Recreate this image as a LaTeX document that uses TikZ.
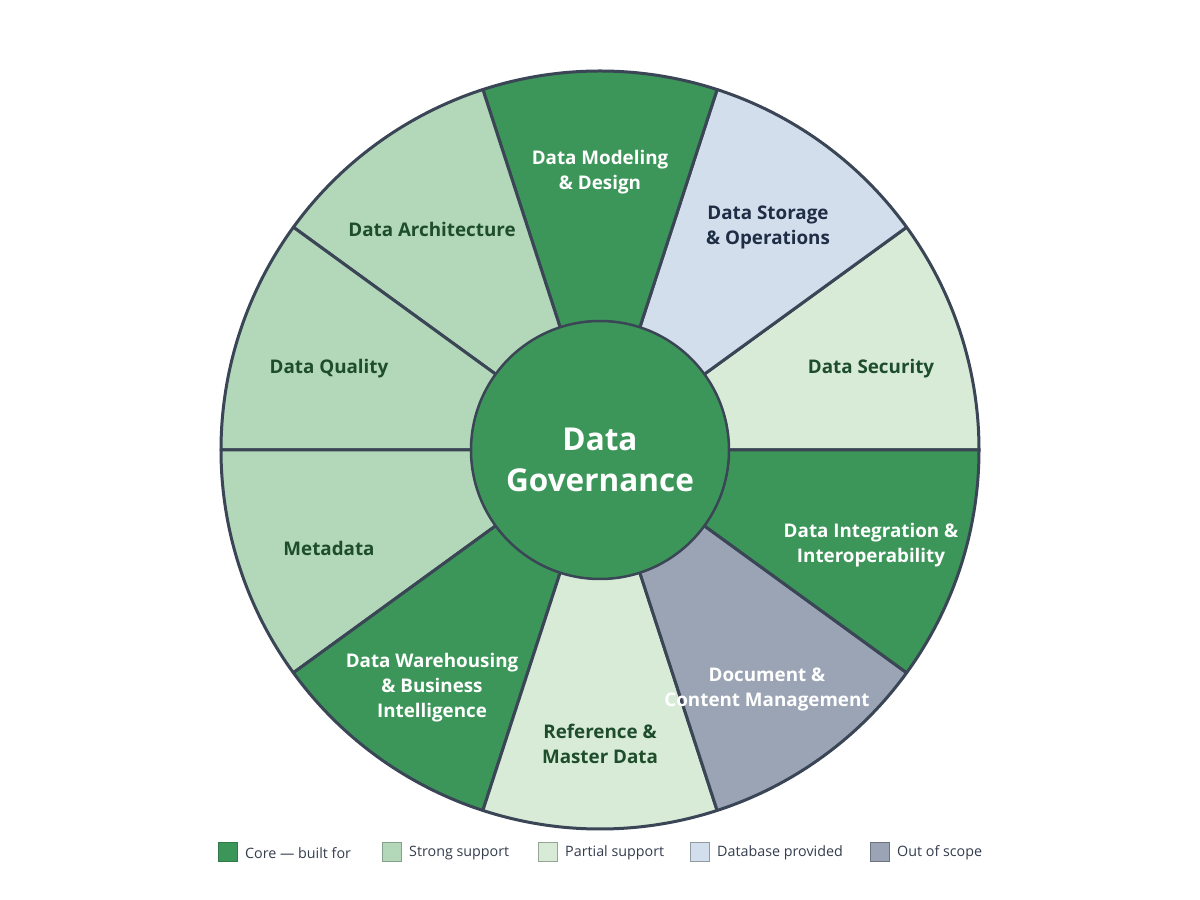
\documentclass[tikz,border=0pt]{standalone}
\usepackage{fontspec}
\setmainfont{Open Sans}
\definecolor{core}{HTML}{3D9659}
\definecolor{strong}{HTML}{B3D7B9}
\definecolor{partial}{HTML}{D8EBD7}
\definecolor{dbprov}{HTML}{D2DEEB}
\definecolor{outsc}{HTML}{9BA4B4}
\definecolor{edge}{HTML}{3A4556}
\definecolor{dgreen}{HTML}{1E4D2B}
\definecolor{navy}{HTML}{1F2D45}
\definecolor{legtext}{HTML}{333D4D}
\tikzset{
  seg/.style={draw=edge, line width=3pt, line join=round},
  lab/.style={font=\fontsize{18.8}{25}\selectfont\bfseries, align=center, inner sep=0pt},
  labw/.style={lab, text=white},
  labg/.style={lab, text=dgreen},
  labn/.style={lab, text=navy},
  legbox/.style={minimum size=19pt, inner sep=0pt, line width=1pt},
  legtxt/.style={font=\fontsize{14.3}{16}\selectfont, text=legtext, anchor=west, inner sep=0pt}
}
\begin{document}
\begin{tikzpicture}[x=1pt,y=1pt]
\useasboundingbox (0,0) rectangle (1200,900);
\fill[white] (0,0) rectangle (1200,900);
\coordinate (C) at (600,450);
% sectors
\foreach \a/\c in {0/partial,36/dbprov,72/core,108/strong,144/strong,180/strong,216/core,252/partial,288/outsc,324/core}{
  \filldraw[seg, fill=\c] (C) -- ++(\a:379) arc[start angle=\a, end angle=\a+36, radius=379] -- cycle;
}
% centre
\node[circle, fill=core, draw=edge, line width=2.5pt, minimum size=258pt, inner sep=0pt] (hub) at (C) {};
\node[lab, text=white, font=\fontsize{31.5}{41}\selectfont\bfseries] (hubt) at (600,440) {Data\\Governance};
% labels
\node[labw] (dm) at (600,728) {Data Modeling\\\& Design};
\node[labn] (ds) at (768,673) {Data Storage\\\& Operations};
\node[labg] (sec) at (871,531) {Data Security};
\node[labw] (di) at (871,355) {Data Integration \&\\Interoperability};
\node[labw] (doc) at (767,211) {Document \&\\Content Management};
\node[labg] (ref) at (600,156) {Reference \&\\Master Data};
\node[labw] (dw) at (432,212) {Data Warehousing\\\& Business\\Intelligence};
\node[labg] (md) at (329,352) {Metadata};
\node[labg] (dq) at (329,531) {Data Quality};
\node[labg] (da) at (432,671) {Data Architecture};
% legend
\node[legbox, fill=core, draw=core!80!black] (l1) at (228,48) {};
\node[legtxt] (t1) at (245,47) {Core — built for};
\node[legbox, fill=strong, draw=strong!75!black] (l2) at (392,48) {};
\node[legtxt] (t2) at (409,47) {Strong support};
\node[legbox, fill=partial, draw=partial!70!black] (l3) at (548,48) {};
\node[legtxt] (t3) at (565,47) {Partial support};
\node[legbox, fill=dbprov, draw=dbprov!70!black] (l4) at (700,48) {};
\node[legtxt] (t4) at (717,47) {Database provided};
\node[legbox, fill=outsc, draw=outsc!70!black] (l5) at (880,48) {};
\node[legtxt] (t5) at (897,47) {Out of scope};
\end{tikzpicture}
\end{document}
